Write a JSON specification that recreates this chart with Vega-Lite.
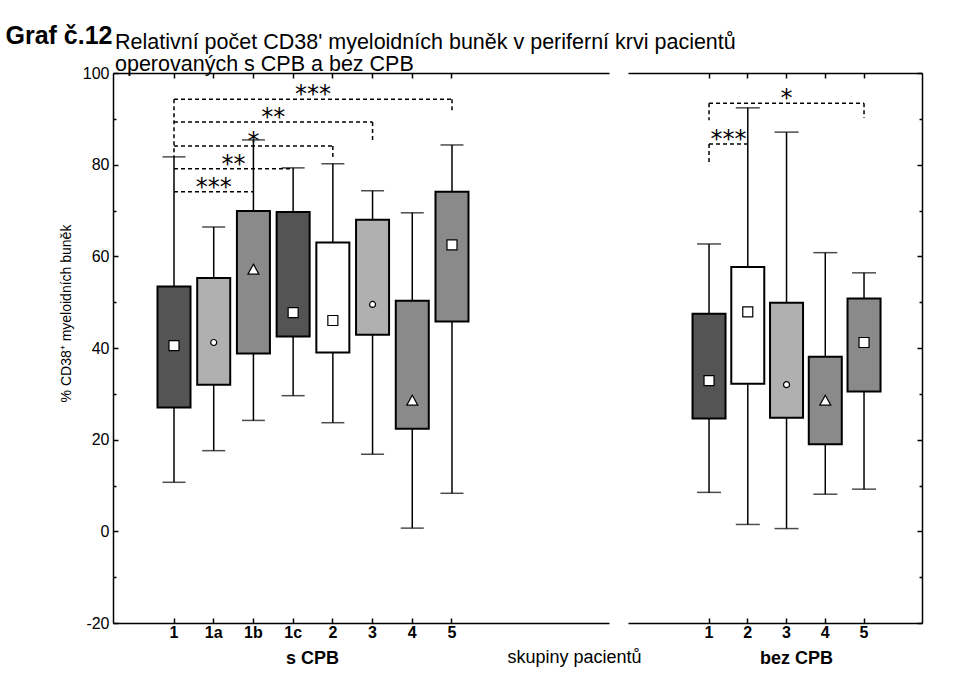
{
  "$schema": "https://vega.github.io/schema/vega-lite/v6.json",
  "autosize": {"type": "pad"},
  "padding": {"left": 5, "top": 23, "right": 35, "bottom": 5},
  "background": "white",
  "bounds": "flush",
  "spacing": 19,
  "title": {
    "text": ["Relativní počet CD38' myeloidních buněk v periferní krvi pacientů", "operovaných s CPB a bez CPB"],
    "anchor": "start",
    "frame": "group",
    "font": "Liberation Sans",
    "fontSize": 21.5,
    "fontWeight": "normal",
    "lineHeight": 22,
    "offset": -52,
    "dx": 2,
    "color": "black"
  },
  "config": {
    "view": {"stroke": null},
    "axis": {
      "grid": false,
      "domainColor": "black",
      "domainWidth": 1.5,
      "tickColor": "black",
      "tickWidth": 1.5,
      "labelColor": "black",
      "titleColor": "black",
      "labelFont": "Liberation Sans",
      "titleFont": "Liberation Sans",
      "labelOverlap": false
    }
  },
  "datasets": {
    "boxes": [
      {"panel": "s CPB", "skupina": "1", "lo": 10.7, "q1": 27.0, "q3": 53.4, "hi": 81.7, "prumer": 40.5, "typ": "A", "znak": "ctverec"},
      {"panel": "s CPB", "skupina": "1a", "lo": 17.6, "q1": 32.0, "q3": 55.3, "hi": 66.4, "prumer": 41.2, "typ": "B", "znak": "kruh"},
      {"panel": "s CPB", "skupina": "1b", "lo": 24.2, "q1": 38.8, "q3": 69.9, "hi": 85.4, "prumer": 57.1, "typ": "C", "znak": "trojuhelnik"},
      {"panel": "s CPB", "skupina": "1c", "lo": 29.6, "q1": 42.5, "q3": 69.7, "hi": 79.3, "prumer": 47.7, "typ": "A", "znak": "ctverec"},
      {"panel": "s CPB", "skupina": "2", "lo": 23.7, "q1": 39.0, "q3": 63.0, "hi": 80.2, "prumer": 46.0, "typ": "D", "znak": "ctverec"},
      {"panel": "s CPB", "skupina": "3", "lo": 16.8, "q1": 42.9, "q3": 68.0, "hi": 74.3, "prumer": 49.5, "typ": "B", "znak": "kruh"},
      {"panel": "s CPB", "skupina": "4", "lo": 0.7, "q1": 22.4, "q3": 50.3, "hi": 69.5, "prumer": 28.5, "typ": "C", "znak": "trojuhelnik"},
      {"panel": "s CPB", "skupina": "5", "lo": 8.3, "q1": 45.8, "q3": 74.1, "hi": 84.3, "prumer": 62.5, "typ": "C", "znak": "ctverec"},
      {"panel": "bez CPB", "skupina": "1", "lo": 8.5, "q1": 24.6, "q3": 47.5, "hi": 62.7, "prumer": 32.9, "typ": "A", "znak": "ctverec"},
      {"panel": "bez CPB", "skupina": "2", "lo": 1.5, "q1": 32.2, "q3": 57.7, "hi": 92.4, "prumer": 47.9, "typ": "D", "znak": "ctverec"},
      {"panel": "bez CPB", "skupina": "3", "lo": 0.6, "q1": 24.8, "q3": 49.9, "hi": 87.1, "prumer": 32.0, "typ": "B", "znak": "kruh"},
      {"panel": "bez CPB", "skupina": "4", "lo": 8.1, "q1": 19.0, "q3": 38.1, "hi": 60.8, "prumer": 28.5, "typ": "C", "znak": "trojuhelnik"},
      {"panel": "bez CPB", "skupina": "5", "lo": 9.2, "q1": 30.5, "q3": 50.8, "hi": 56.4, "prumer": 41.2, "typ": "C", "znak": "ctverec"}
    ],
    "brackets": [
      {"panel": "s CPB", "od": "1", "do": "5", "vyska": 94.3, "konecOd": 81.7, "konecDo": 91.5, "znacka": "***", "pozice": "1c–2"},
      {"panel": "s CPB", "od": "1", "do": "3", "vyska": 89.3, "konecOd": 89.3, "konecDo": 85.4, "znacka": "**", "pozice": "1b–1c"},
      {"panel": "s CPB", "od": "1", "do": "2", "vyska": 84.1, "konecOd": 84.1, "konecDo": 81.0, "znacka": "*", "pozice": "1b"},
      {"panel": "s CPB", "od": "1", "do": "1c", "vyska": 79.1, "konecOd": 79.1, "konecDo": 79.1, "znacka": "**", "pozice": "1a–1b"},
      {"panel": "s CPB", "od": "1", "do": "1b", "vyska": 74.1, "konecOd": 74.1, "konecDo": 74.1, "znacka": "***", "pozice": "1a"},
      {"panel": "bez CPB", "od": "1", "do": "5", "vyska": 93.4, "konecOd": 89.7, "konecDo": 90.2, "znacka": "*", "pozice": "3"},
      {"panel": "bez CPB", "od": "1", "do": "2", "vyska": 84.5, "konecOd": 80.6, "konecDo": 84.5, "znacka": "***", "pozice": "1–2"}
    ]
  },
  "hconcat": [
    {
      "width": 496,
      "height": 550,
      "resolve": {"axis": {"x": "independent", "y": "independent"}},
      "layer": [
        {
          "data": {"name": "boxes"},
          "transform": [{"filter": "datum.panel == 's CPB'"}],
          "mark": {"type": "rule", "color": "black", "strokeWidth": 1.5},
          "encoding": {
            "x": {"field": "skupina", "type": "nominal",
              "scale": {"type": "band", "domain": ["_l1","_l2","1","1–1a","1a","1a–1b","1b","1b–1c","1c","1c–2","2","2–3","3","3–4","4","4–5","5","_r1","_r2","_r3","_r4","_r5","_r6","_r7"], "paddingInner": 0, "paddingOuter": 0.49, "align": 0.584},
              "axis": {"orient": "bottom", "values": ["1","1a","1b","1c","2","3","4","5"], "tickSize": -5, "labelPadding": 6, "labelFontSize": 16, "labelFontWeight": "bold", "labelAngle": 0,
                "title": "s CPB", "titleFontSize": 18, "titleFontWeight": "bold", "titleX": 199, "titleY": 40, "titleAlign": "center", "titleBaseline": "alphabetic"}},
            "y": {"field": "lo", "type": "quantitative",
              "scale": {"domain": [-20, 100], "nice": false, "zero": false},
              "axis": {"orient": "left", "values": [-20, 0, 20, 40, 60, 80, 100], "tickSize": -5, "labelPadding": 9, "labelFontSize": 16,
                "labelExpr": "replace(datum.label, '−', '-')",
                "title": "% CD38⁺  myeloidních buněk", "titleFontSize": 14, "titleFontWeight": "normal", "titleX": -47, "titleY": 240, "titleAngle": -90, "titleAlign": "center", "titleBaseline": "middle"}},
            "y2": {"field": "hi"}
          }
        },
        {
          "data": {"name": "boxes"},
          "transform": [{"filter": "datum.panel == 's CPB'"}],
          "mark": {"type": "tick", "orient": "horizontal", "color": "black", "size": 23, "thickness": 1.5},
          "encoding": {
            "x": {"field": "skupina", "type": "nominal", "scale": {"type": "band", "domain": ["_l1","_l2","1","1–1a","1a","1a–1b","1b","1b–1c","1c","1c–2","2","2–3","3","3–4","4","4–5","5","_r1","_r2","_r3","_r4","_r5","_r6","_r7"], "paddingInner": 0, "paddingOuter": 0.49, "align": 0.584}, "axis": null},
            "y": {"field": "lo", "type": "quantitative", "scale": {"domain": [-20, 100], "nice": false, "zero": false}, "axis": null}
          }
        },
        {
          "data": {"name": "boxes"},
          "transform": [{"filter": "datum.panel == 's CPB'"}],
          "mark": {"type": "tick", "orient": "horizontal", "color": "black", "size": 23, "thickness": 1.5},
          "encoding": {
            "x": {"field": "skupina", "type": "nominal", "scale": {"type": "band", "domain": ["_l1","_l2","1","1–1a","1a","1a–1b","1b","1b–1c","1c","1c–2","2","2–3","3","3–4","4","4–5","5","_r1","_r2","_r3","_r4","_r5","_r6","_r7"], "paddingInner": 0, "paddingOuter": 0.49, "align": 0.584}, "axis": null},
            "y": {"field": "hi", "type": "quantitative", "scale": {"domain": [-20, 100], "nice": false, "zero": false}, "axis": null}
          }
        },
        {
          "data": {"name": "boxes"},
          "transform": [{"filter": "datum.panel == 's CPB'"}],
          "mark": {"type": "bar", "size": 33, "stroke": "black", "strokeWidth": 2, "opacity": 1},
          "encoding": {
            "x": {"field": "skupina", "type": "nominal",
              "scale": {"type": "band", "domain": ["_l1","_l2","1","1–1a","1a","1a–1b","1b","1b–1c","1c","1c–2","2","2–3","3","3–4","4","4–5","5","_r1","_r2","_r3","_r4","_r5","_r6","_r7"], "paddingInner": 0, "paddingOuter": 0.49, "align": 0.584},
              "axis": {"orient": "top", "values": ["1","1a","1b","1c","2","3","4","5"], "tickSize": -5, "labels": false,
                "title": "Graf č.12", "titleFont": "Liberation Sans Narrow, Arial Narrow, Liberation Sans", "titleFontSize": 25, "titleFontWeight": "bold", "titleX": -108, "titleY": -30, "titleAlign": "left", "titleBaseline": "alphabetic"}},
            "y": {"field": "q1", "type": "quantitative", "scale": {"domain": [-20, 100], "nice": false, "zero": false},
              "axis": {"orient": "left", "values": [-10, 10, 30, 50, 70, 90], "tickSize": -3, "labels": false, "domain": false, "title": null}},
            "y2": {"field": "q3"},
            "color": {"field": "typ", "type": "nominal", "scale": {"domain": ["A", "B", "C", "D"], "range": ["#545454", "#b0b0b0", "#8a8a8a", "#ffffff"]}, "legend": null}
          }
        },
        {
          "data": {"name": "boxes"},
          "transform": [{"filter": "datum.panel == 's CPB'"}],
          "mark": {"type": "point", "filled": true, "fill": "white", "stroke": "black", "strokeWidth": 1.2, "opacity": 1, "size": 100},
          "encoding": {
            "x": {"field": "skupina", "type": "nominal", "scale": {"type": "band", "domain": ["_l1","_l2","1","1–1a","1a","1a–1b","1b","1b–1c","1c","1c–2","2","2–3","3","3–4","4","4–5","5","_r1","_r2","_r3","_r4","_r5","_r6","_r7"], "paddingInner": 0, "paddingOuter": 0.49, "align": 0.584}, "axis": null},
            "y": {"field": "prumer", "type": "quantitative", "scale": {"domain": [-20, 100], "nice": false, "zero": false}, "axis": null},
            "shape": {"field": "znak", "type": "nominal", "scale": {"domain": ["ctverec", "kruh", "trojuhelnik"], "range": ["M-1,-1H1V1H-1Z", "M0.6,0A0.6,0.6 0 1,1 -0.6,0A0.6,0.6 0 1,1 0.6,0Z", "M0,-1.1L1.1,0.9L-1.1,0.9Z"]}, "legend": null}
          }
        },
        {
          "data": {"name": "brackets"},
          "transform": [{"filter": "datum.panel == 's CPB'"}],
          "mark": {"type": "rule", "color": "black", "strokeWidth": 1.5, "strokeDash": [4, 3]},
          "encoding": {
            "x": {"field": "od", "type": "nominal", "scale": {"type": "band", "domain": ["_l1","_l2","1","1–1a","1a","1a–1b","1b","1b–1c","1c","1c–2","2","2–3","3","3–4","4","4–5","5","_r1","_r2","_r3","_r4","_r5","_r6","_r7"], "paddingInner": 0, "paddingOuter": 0.49, "align": 0.584}, "axis": null},
            "x2": {"field": "do"},
            "y": {"field": "vyska", "type": "quantitative", "scale": {"domain": [-20, 100], "nice": false, "zero": false}, "axis": null}
          }
        },
        {
          "data": {"name": "brackets"},
          "transform": [{"filter": "datum.panel == 's CPB'"}],
          "mark": {"type": "rule", "color": "black", "strokeWidth": 1.5, "strokeDash": [4, 3]},
          "encoding": {
            "x": {"field": "od", "type": "nominal", "scale": {"type": "band", "domain": ["_l1","_l2","1","1–1a","1a","1a–1b","1b","1b–1c","1c","1c–2","2","2–3","3","3–4","4","4–5","5","_r1","_r2","_r3","_r4","_r5","_r6","_r7"], "paddingInner": 0, "paddingOuter": 0.49, "align": 0.584}, "axis": null},
            "y": {"field": "vyska", "type": "quantitative", "scale": {"domain": [-20, 100], "nice": false, "zero": false}, "axis": null},
            "y2": {"field": "konecOd"}
          }
        },
        {
          "data": {"name": "brackets"},
          "transform": [{"filter": "datum.panel == 's CPB'"}],
          "mark": {"type": "rule", "color": "black", "strokeWidth": 1.5, "strokeDash": [4, 3]},
          "encoding": {
            "x": {"field": "do", "type": "nominal", "scale": {"type": "band", "domain": ["_l1","_l2","1","1–1a","1a","1a–1b","1b","1b–1c","1c","1c–2","2","2–3","3","3–4","4","4–5","5","_r1","_r2","_r3","_r4","_r5","_r6","_r7"], "paddingInner": 0, "paddingOuter": 0.49, "align": 0.584}, "axis": null},
            "y": {"field": "vyska", "type": "quantitative", "scale": {"domain": [-20, 100], "nice": false, "zero": false}, "axis": null},
            "y2": {"field": "konecDo"}
          }
        },
        {
          "data": {"name": "brackets"},
          "transform": [{"filter": "datum.panel == 's CPB'"}],
          "mark": {"type": "text", "font": "DejaVu Sans", "fontSize": 24, "align": "center", "baseline": "alphabetic", "dy": 3, "color": "black"},
          "encoding": {
            "x": {"field": "pozice", "type": "nominal", "scale": {"type": "band", "domain": ["_l1","_l2","1","1–1a","1a","1a–1b","1b","1b–1c","1c","1c–2","2","2–3","3","3–4","4","4–5","5","_r1","_r2","_r3","_r4","_r5","_r6","_r7"], "paddingInner": 0, "paddingOuter": 0.49, "align": 0.584}, "axis": null},
            "y": {"field": "vyska", "type": "quantitative", "scale": {"domain": [-20, 100], "nice": false, "zero": false}, "axis": null},
            "text": {"field": "znacka"}
          }
        }
      ]
    },
    {
      "width": 294,
      "height": 550,
      "resolve": {"axis": {"x": "independent", "y": "independent"}},
      "layer": [
        {
          "data": {"name": "boxes"},
          "transform": [{"filter": "datum.panel == 'bez CPB'"}],
          "mark": {"type": "rule", "color": "black", "strokeWidth": 1.5},
          "encoding": {
            "x": {"field": "skupina", "type": "nominal",
              "scale": {"type": "band", "domain": ["_l1","_l2","_l3","1","1–2","2","2–3","3","3–4","4","4–5","5","_r1","_r2"], "paddingInner": 0, "paddingOuter": 0.587, "align": 0.581},
              "axis": {"orient": "bottom", "values": ["1","2","3","4","5"], "tickSize": -5, "labelPadding": 6, "labelFontSize": 16, "labelFontWeight": "bold", "labelAngle": 0,
                "title": "bez CPB", "titleFontSize": 18, "titleFontWeight": "bold", "titleX": 168, "titleY": 40, "titleAlign": "center", "titleBaseline": "alphabetic"}},
            "y": {"field": "lo", "type": "quantitative",
              "scale": {"domain": [-20, 100], "nice": false, "zero": false},
              "axis": {"orient": "right", "values": [-20, 0, 20, 40, 60, 80, 100], "tickSize": -5, "labels": false, "title": null}},
            "y2": {"field": "hi"}
          }
        },
        {
          "data": {"name": "boxes"},
          "transform": [{"filter": "datum.panel == 'bez CPB'"}],
          "mark": {"type": "tick", "orient": "horizontal", "color": "black", "size": 24, "thickness": 1.5},
          "encoding": {
            "x": {"field": "skupina", "type": "nominal", "scale": {"type": "band", "domain": ["_l1","_l2","_l3","1","1–2","2","2–3","3","3–4","4","4–5","5","_r1","_r2"], "paddingInner": 0, "paddingOuter": 0.587, "align": 0.581}, "axis": null},
            "y": {"field": "lo", "type": "quantitative", "scale": {"domain": [-20, 100], "nice": false, "zero": false}, "axis": null}
          }
        },
        {
          "data": {"name": "boxes"},
          "transform": [{"filter": "datum.panel == 'bez CPB'"}],
          "mark": {"type": "tick", "orient": "horizontal", "color": "black", "size": 24, "thickness": 1.5},
          "encoding": {
            "x": {"field": "skupina", "type": "nominal", "scale": {"type": "band", "domain": ["_l1","_l2","_l3","1","1–2","2","2–3","3","3–4","4","4–5","5","_r1","_r2"], "paddingInner": 0, "paddingOuter": 0.587, "align": 0.581}, "axis": null},
            "y": {"field": "hi", "type": "quantitative", "scale": {"domain": [-20, 100], "nice": false, "zero": false}, "axis": null}
          }
        },
        {
          "data": {"name": "boxes"},
          "transform": [{"filter": "datum.panel == 'bez CPB'"}],
          "mark": {"type": "bar", "size": 33, "stroke": "black", "strokeWidth": 2, "opacity": 1},
          "encoding": {
            "x": {"field": "skupina", "type": "nominal",
              "scale": {"type": "band", "domain": ["_l1","_l2","_l3","1","1–2","2","2–3","3","3–4","4","4–5","5","_r1","_r2"], "paddingInner": 0, "paddingOuter": 0.587, "align": 0.581},
              "axis": {"orient": "top", "values": ["1","2","3","4","5"], "tickSize": -5, "labels": false,
                "title": "skupiny pacientů", "titleFontSize": 18, "titleFontWeight": "normal", "titleX": -54, "titleY": 589, "titleAlign": "center", "titleBaseline": "alphabetic"}},
            "y": {"field": "q1", "type": "quantitative", "scale": {"domain": [-20, 100], "nice": false, "zero": false},
              "axis": {"orient": "right", "values": [-10, 10, 30, 50, 70, 90], "tickSize": -3, "labels": false, "domain": false, "title": null}},
            "y2": {"field": "q3"},
            "color": {"field": "typ", "type": "nominal", "scale": {"domain": ["A", "B", "C", "D"], "range": ["#545454", "#b0b0b0", "#8a8a8a", "#ffffff"]}, "legend": null}
          }
        },
        {
          "data": {"name": "boxes"},
          "transform": [{"filter": "datum.panel == 'bez CPB'"}],
          "mark": {"type": "point", "filled": true, "fill": "white", "stroke": "black", "strokeWidth": 1.2, "opacity": 1, "size": 100},
          "encoding": {
            "x": {"field": "skupina", "type": "nominal", "scale": {"type": "band", "domain": ["_l1","_l2","_l3","1","1–2","2","2–3","3","3–4","4","4–5","5","_r1","_r2"], "paddingInner": 0, "paddingOuter": 0.587, "align": 0.581}, "axis": null},
            "y": {"field": "prumer", "type": "quantitative", "scale": {"domain": [-20, 100], "nice": false, "zero": false}, "axis": null},
            "shape": {"field": "znak", "type": "nominal", "scale": {"domain": ["ctverec", "kruh", "trojuhelnik"], "range": ["M-1,-1H1V1H-1Z", "M0.6,0A0.6,0.6 0 1,1 -0.6,0A0.6,0.6 0 1,1 0.6,0Z", "M0,-1.1L1.1,0.9L-1.1,0.9Z"]}, "legend": null}
          }
        },
        {
          "data": {"name": "brackets"},
          "transform": [{"filter": "datum.panel == 'bez CPB'"}],
          "mark": {"type": "rule", "color": "black", "strokeWidth": 1.5, "strokeDash": [4, 3]},
          "encoding": {
            "x": {"field": "od", "type": "nominal", "scale": {"type": "band", "domain": ["_l1","_l2","_l3","1","1–2","2","2–3","3","3–4","4","4–5","5","_r1","_r2"], "paddingInner": 0, "paddingOuter": 0.587, "align": 0.581}, "axis": null},
            "x2": {"field": "do"},
            "y": {"field": "vyska", "type": "quantitative", "scale": {"domain": [-20, 100], "nice": false, "zero": false}, "axis": null}
          }
        },
        {
          "data": {"name": "brackets"},
          "transform": [{"filter": "datum.panel == 'bez CPB'"}],
          "mark": {"type": "rule", "color": "black", "strokeWidth": 1.5, "strokeDash": [4, 3]},
          "encoding": {
            "x": {"field": "od", "type": "nominal", "scale": {"type": "band", "domain": ["_l1","_l2","_l3","1","1–2","2","2–3","3","3–4","4","4–5","5","_r1","_r2"], "paddingInner": 0, "paddingOuter": 0.587, "align": 0.581}, "axis": null},
            "y": {"field": "vyska", "type": "quantitative", "scale": {"domain": [-20, 100], "nice": false, "zero": false}, "axis": null},
            "y2": {"field": "konecOd"}
          }
        },
        {
          "data": {"name": "brackets"},
          "transform": [{"filter": "datum.panel == 'bez CPB'"}],
          "mark": {"type": "rule", "color": "black", "strokeWidth": 1.5, "strokeDash": [4, 3]},
          "encoding": {
            "x": {"field": "do", "type": "nominal", "scale": {"type": "band", "domain": ["_l1","_l2","_l3","1","1–2","2","2–3","3","3–4","4","4–5","5","_r1","_r2"], "paddingInner": 0, "paddingOuter": 0.587, "align": 0.581}, "axis": null},
            "y": {"field": "vyska", "type": "quantitative", "scale": {"domain": [-20, 100], "nice": false, "zero": false}, "axis": null},
            "y2": {"field": "konecDo"}
          }
        },
        {
          "data": {"name": "brackets"},
          "transform": [{"filter": "datum.panel == 'bez CPB'"}],
          "mark": {"type": "text", "font": "DejaVu Sans", "fontSize": 24, "align": "center", "baseline": "alphabetic", "dy": 3, "color": "black"},
          "encoding": {
            "x": {"field": "pozice", "type": "nominal", "scale": {"type": "band", "domain": ["_l1","_l2","_l3","1","1–2","2","2–3","3","3–4","4","4–5","5","_r1","_r2"], "paddingInner": 0, "paddingOuter": 0.587, "align": 0.581}, "axis": null},
            "y": {"field": "vyska", "type": "quantitative", "scale": {"domain": [-20, 100], "nice": false, "zero": false}, "axis": null},
            "text": {"field": "znacka"}
          }
        }
      ]
    }
  ]
}
